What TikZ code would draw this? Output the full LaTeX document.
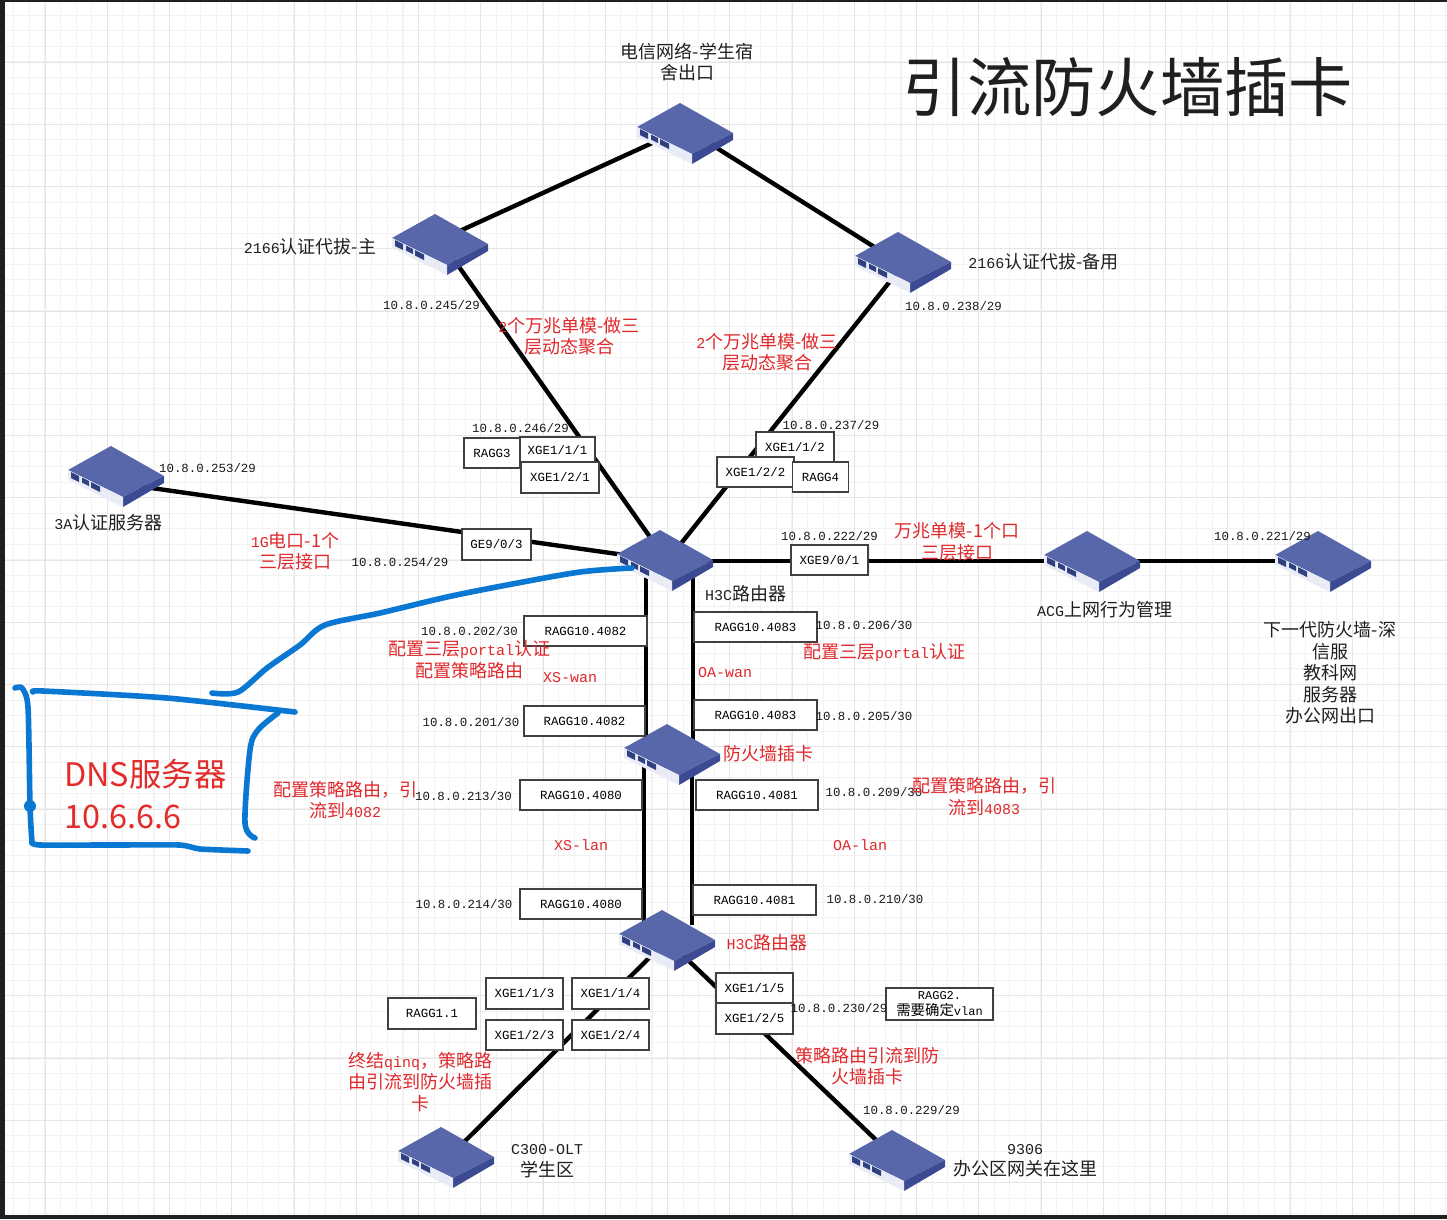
\documentclass[tikz,border=0pt]{standalone}
\usepackage{fontspec}
\setmainfont{Liberation Mono}
\newfontfamily\cjk[Scale=1.2]{Noto Sans CJK SC}
\newcommand{\zh}[1]{{\cjk #1}}
\definecolor{topface}{HTML}{5767A9}
\definecolor{sideface}{HTML}{3B4A92}
\definecolor{portblue}{HTML}{2F3F7F}
\definecolor{frontface}{HTML}{E9ECF6}
\definecolor{redlabel}{HTML}{E0282C}
\definecolor{penblue}{HTML}{0A78D2}
\tikzset{
	vertex/.style={circle,inner sep=0pt,minimum size=0pt},
	minorline/.style={draw=black!5,line width=1.1pt},
	majorline/.style={draw=black!10,line width=1pt},
	link/.style={draw=black,line width=4.4pt},
	portbox/.style={draw=black!75,fill=white,line width=1.2pt,inner sep=0pt,minimum width=78pt,minimum height=30pt,font=\fontsize{12.4}{14}\selectfont},
	raggbox/.style={portbox,minimum width=122pt},
	smallbox/.style={portbox,minimum width=56pt},
	iplabel/.style={inner sep=0pt,text=black!90,font=\fontsize{12.4}{14}\selectfont},
	blacklabel/.style={inner sep=0pt,align=center,text=black!88,font=\fontsize{15}{21.5}\selectfont},
	redlabel/.style={inner sep=0pt,align=center,text=redlabel,font=\fontsize{15}{21.5}\selectfont},
	bluepen/.style={draw=penblue,line width=5.6pt,line cap=round,line join=round},
	router/.pic={
		\fill[topface] (-48,-6) -- (-5,-30) -- (48,0) -- (7,21) -- cycle;
		\fill[sideface] (7,21) -- (48,0) -- (48,7) -- (7,31) -- cycle;
		\fill[frontface] (-48,-6) -- (7,21) -- (7,31) -- (-48,4) -- cycle;
		\fill[portblue] (-45,-4) -- (-37,0) -- (-37,6) -- (-45,2) -- cycle;
		\fill[portblue] (-34,1.5) -- (-27,5) -- (-27,10) -- (-34,6.5) -- cycle;
		\fill[portblue] (-25,6) -- (-16,10.5) -- (-16,16) -- (-25,11.5) -- cycle;
	}
}
\newcommand{\vertex}{\node[vertex]}
\newcommand{\port}{\node[portbox]}
\newcommand{\ragg}{\node[raggbox]}
\newcommand{\ip}{\node[iplabel]}
\newcommand{\blk}{\node[blacklabel]}
\newcommand{\red}{\node[redlabel]}

\begin{document}
\begin{tikzpicture}[x=1pt,y=-1pt]
	\useasboundingbox (0,0) rectangle (1447,1219);
	\fill[white] (0,0) rectangle (1447,1219);
	% grid behind everything
	\foreach \i in {0,...,92} {\draw[minorline] ({13.9+15.5625*\i},0) -- ({13.9+15.5625*\i},1219);}
	\foreach \i in {0,...,78} {\draw[minorline] (0,{15.3+15.5625*\i}) -- (1447,{15.3+15.5625*\i});}
	\foreach \i in {0,...,22} {\draw[majorline] ({45+62.25*\i},0) -- ({45+62.25*\i},1219);}
	\foreach \i in {0,...,18} {\draw[majorline] (0,{62+62.25*\i}) -- (1447,{62+62.25*\i});}
	\fill[black!88] (0,0) rectangle (5,1219);
	\fill[black!88] (0,0) rectangle (1447,2);
	\fill[black!88] (0,1215) rectangle (1447,1219);
	% % % % % % % % % % % % % % % % % % % % % % % % % % % % %
	\vertex [] (r1) at (685,128) {};
	\vertex [] (r2) at (440,240) {};
	\vertex [] (r3) at (903,265) {};
	\vertex [] (r4) at (116,483) {};
	\vertex [] (r5) at (667,561) {};
	\vertex [] (r6) at (1092,561) {};
	\vertex [] (r7) at (1323,561) {};
	\vertex [] (r9) at (667,940) {};
	\vertex [] (r10) at (449,1157) {};
	\vertex [] (r11) at (897,1160) {};
	%*********************
	\vertex [] (a1) at (646,575) {};
	\vertex [] (a2) at (646,745) {};
	\vertex [] (a3) at (693,575) {};
	\vertex [] (a4) at (693,745) {};
	\vertex [] (a5) at (644,765) {};
	\vertex [] (a6) at (644,925) {};
	\vertex [] (a7) at (692,772) {};
	\vertex [] (a8) at (692,925) {};
	\path
	(r1) edge [link] (r2)
	(r1) edge [link] (r3)
	(r2) edge [link] (r5)
	(r3) edge [link] (r5)
	(r4) edge [link] (r5)
	(r5) edge [link] (r6)
	(r6) edge [link] (r7)
	(a1) edge [link] (a2)
	(a3) edge [link] (a4)
	(a5) edge [link] (a6)
	(a7) edge [link] (a8)
	(r9) edge [link] (r10)
	(r9) edge [link] (r11)
	;
	%*********************
	\pic at (685,133) {router};
	\pic at (440,244) {router};
	\pic at (903,262) {router};
	\pic at (116,476) {router};
	\pic at (665,560) {router};
	\pic at (1092,561) {router};
	\pic at (1323,561) {router};
	\pic at (672,754) {router};
	\pic at (667,940) {router};
	\pic at (446,1157) {router};
	\pic at (897,1160) {router};
	% % % % % % % % % % % % % % % % % % % % % % % % % % % % %
	\node[smallbox] (b1) at (492,453) {RAGG3};
	\port [minimum width=75pt,minimum height=27pt] (b2) at (557.5,450.5) {XGE1/1/1};
	\port [minimum height=31pt] (b3) at (560,477.5) {XGE1/2/1};
	\port [] (b4) at (795,447) {XGE1/1/2};
	\port [minimum width=77pt] (b5) at (755.5,472) {XGE1/2/2};
	\node[smallbox] (b6) at (820.5,477) {RAGG4};
	\port [minimum width=69pt,minimum height=31pt] (b7) at (496.5,544.5) {GE9/0/3};
	\port [minimum width=77pt] (b8) at (829.5,560) {XGE9/0/1};
	\ragg [minimum width=123pt] (b9) at (585.5,631) {RAGG10.4082};
	\ragg [minimum width=123pt] (b10) at (755.5,627) {RAGG10.4083};
	\ragg [minimum width=121pt] (b11) at (584.5,721) {RAGG10.4082};
	\ragg [minimum width=123pt] (b12) at (755.5,715) {RAGG10.4083};
	\ragg [] (b13) at (581,795) {RAGG10.4080};
	\ragg [] (b14) at (757,795) {RAGG10.4081};
	\ragg [] (b15) at (581,904) {RAGG10.4080};
	\ragg [minimum width=123pt] (b16) at (754.5,900) {RAGG10.4081};
	\port [minimum width=77pt,minimum height=31pt] (b17) at (524.5,993.5) {XGE1/1/3};
	\port [minimum width=77pt,minimum height=31pt] (b18) at (610.5,993.5) {XGE1/1/4};
	\port [minimum width=77pt] (b19) at (524.5,1035) {XGE1/2/3};
	\port [minimum width=77pt] (b20) at (610.5,1035) {XGE1/2/4};
	\port [minimum width=88pt,minimum height=31pt] (b21) at (432,1013.5) {RAGG1.1};
	\port [minimum width=77pt] (b22) at (754.5,988) {XGE1/1/5};
	\port [minimum width=77pt,minimum height=31pt] (b23) at (754.5,1018.5) {XGE1/2/5};
	\port [minimum width=107pt,minimum height=32pt,align=center,font=\fontsize{12}{16}\selectfont] (b24) at (939.5,1004) {RAGG2.\\\zh{需要确定}vlan};
	% % % % % % % % % % % % % % % % % % % % % % % % % % % % %
	\ip [] (i1) at (431.5,305) {10.8.0.245/29};
	\ip [] (i2) at (953.5,306) {10.8.0.238/29};
	\ip [] (i3) at (520.5,428) {10.8.0.246/29};
	\ip [] (i4) at (831,425) {10.8.0.237/29};
	\ip [] (i5) at (207.5,468) {10.8.0.253/29};
	\ip [] (i6) at (400,562) {10.8.0.254/29};
	\ip [] (i7) at (829.5,536) {10.8.0.222/29};
	\ip [] (i8) at (1262.5,536) {10.8.0.221/29};
	\ip [] (i9) at (469.5,631) {10.8.0.202/30};
	\ip [] (i10) at (864,625) {10.8.0.206/30};
	\ip [] (i11) at (471,722) {10.8.0.201/30};
	\ip [] (i12) at (864,716) {10.8.0.205/30};
	\ip [] (i13) at (463.5,796) {10.8.0.213/30};
	\ip [] (i14) at (874,792) {10.8.0.209/30};
	\ip [] (i15) at (464,904) {10.8.0.214/30};
	\ip [] (i16) at (875,899) {10.8.0.210/30};
	\ip [] (i17) at (839,1008) {10.8.0.230/29};
	\ip [] (i18) at (911.5,1110) {10.8.0.229/29};
	%*********************
	\blk [] (t1) at (687,62) {\zh{电信网络-学生宿}\\\zh{舍出口}};
	\blk [] (t2) at (310,247) {2166\zh{认证代拔-主}};
	\blk [] (t3) at (1043.5,262) {2166\zh{认证代拔-备用}};
	\blk [] (t4) at (108.5,523) {3A\zh{认证服务器}};
	\blk [] (t5) at (745.5,594) {H3C\zh{路由器}};
	\blk [] (t6) at (1104.5,610) {ACG\zh{上网行为管理}};
	\blk [] (t7) at (1330,673) {\zh{下一代防火墙-深}\\\zh{信服}\\\zh{教科网}\\\zh{服务器}\\\zh{办公网出口}};
	\blk [] (t8) at (547,1161) {C300-OLT\\\zh{学生区}};
	\blk [] (t9) at (1025,1160.5) {9306\\\zh{办公区网关在这里}};
	\blk [font=\fontsize{53.6}{70}\selectfont] (title) at (1128,87) {\zh{引流防火墙插卡}};
	%*********************
	\red [] (c1) at (569,336) {2\zh{个万兆单模-做三}\\\zh{层动态聚合}};
	\red [] (c2) at (767,352) {2\zh{个万兆单模-做三}\\\zh{层动态聚合}};
	\red [] (c3) at (295,551) {1G\zh{电口-1个}\\\zh{三层接口}};
	\red [] (c4) at (957,541.5) {\zh{万兆单模-1个口}\\\zh{三层接口}};
	\red [] (c5) at (469,659.5) {\zh{配置三层}portal\zh{认证}\\\zh{配置策略路由}};
	\red [] (c6) at (884,652) {\zh{配置三层}portal\zh{认证}};
	\red [] (c7) at (570,678) {XS-wan};
	\red [] (c8) at (725,673) {OA-wan};
	\red [] (c9) at (768,754) {\zh{防火墙插卡}};
	\red [] (c10) at (345,800) {\zh{配置策略路由，引}\\\zh{流到}4082};
	\red [] (c11) at (984,796.5) {\zh{配置策略路由，引}\\\zh{流到}4083};
	\red [] (c12) at (581,845) {XS-lan};
	\red [] (c13) at (860,845) {OA-lan};
	\red [] (c14) at (767,943) {H3C\zh{路由器}};
	\red [] (c15) at (420,1082) {\zh{终结}qinq\zh{，策略路}\\\zh{由引流到防火墙插}\\\zh{卡}};
	\red [] (c16) at (867,1066) {\zh{策略路由引流到防}\\\zh{火墙插卡}};
	%*********************
	\node[inner sep=0pt,align=left,anchor=west,text=redlabel!95!orange,font=\fontsize{27}{42}\selectfont\cjk] (dns) at (64,794) {DNS服务器\\10.6.6.6};
	% pen strokes on top
	\draw[bluepen] plot[smooth,tension=.5] coordinates {(632,568) (580,572) (507,585) (447,597) (380,613) (325,625) (300,645) (267,668) (238,692) (212,693)};
	\draw[bluepen] plot[smooth,tension=.4] coordinates {(33,692) (43,691) (167,698) (295,712)};
	\draw[bluepen] plot[smooth,tension=.4] coordinates {(15,688) (22,688) (28,707) (30,806) (32,843)};
	\draw[bluepen] plot[smooth,tension=.3] coordinates {(32,843) (40,845) (110,845) (180,845) (200,849) (248,851)};
	\draw[bluepen] plot[smooth,tension=.5] coordinates {(278,713) (258,730) (250,750) (245,823) (255,838)};
	\fill[penblue] (30,806) circle (6);
\end{tikzpicture}
\end{document}
